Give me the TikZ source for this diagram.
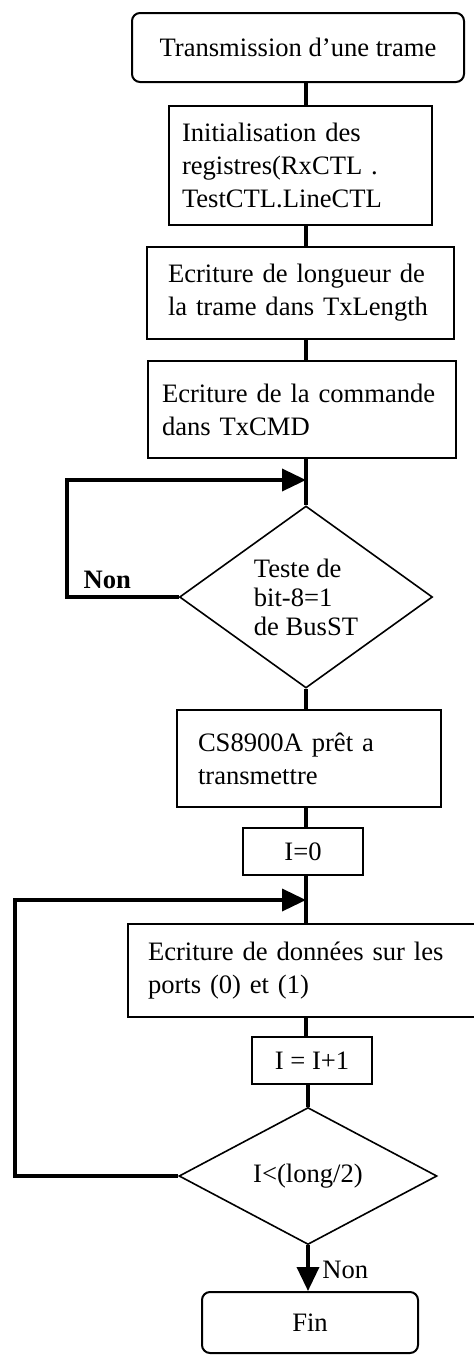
\documentclass[tikz,border=0pt]{standalone}
\usepackage{fontspec}
\setmainfont{Liberation Serif}
\usetikzlibrary{arrows.meta,shapes.geometric}

\begin{document}
\begin{tikzpicture}[
  x=0.5pt,y=-0.5pt,
  txt/.style={font=\fontsize{13.3}{16.5}\selectfont},
  stepbox/.style={draw,line width=1pt,align=left,inner xsep=10.5pt,inner ysep=0pt,txt},
  smallbox/.style={draw,line width=1pt,minimum width=60pt,minimum height=23.5pt,inner sep=0pt,txt},
  endbox/.style={draw,line width=1pt,rounded corners=4pt,inner sep=0pt,txt},
  testbox/.style={draw,diamond,line width=0.8pt,align=left,inner sep=0pt,font=\fontsize{13.3}{14.5}\selectfont},
  flow/.style={line width=1.8pt},
  backflow/.style={flow,-{Triangle[length=12pt,width=11pt]}}
]
\useasboundingbox (0,0) rectangle (474,1355);
\coordinate (ax) at (306,0);
% main column
\node[endbox,minimum width=166pt,minimum height=34.5pt] (n0) at (298,47.5) {Transmission d’une trame};
\node[stepbox,inner xsep=6.5pt,text width=118.5pt,minimum height=59.5pt] (n1) at (300.5,165.5) {Initialisation des\\registres(RxCTL .\\TestCTL.LineCTL};
\node[stepbox,text width=132.5pt,minimum height=46pt] (n2) at (300.5,293) {Ecriture de longueur de\\la trame dans TxLength};
\node[stepbox,inner xsep=7pt,text width=140pt,minimum height=48.5pt] (n3) at (302,409.5) {Ecriture de la commande\\dans TxCMD};
\node[testbox,minimum width=126.5pt,minimum height=91pt] (d1) at (306,597) {Teste de\\bit-8=1\\de BusST};
\node[stepbox,text width=111pt,minimum height=48.5pt] (n4) at (309,758.5) {CS8900A prêt a\\transmettre};
\node[smallbox] (n5) at (303,851.5) {I=0};
\node[stepbox,inner xsep=10pt,text width=156pt,minimum height=46.5pt] (n6) at (304,970.5) {Ecriture de données sur les\\ports (0) et (1)};
\node[smallbox] (n7) at (312,1060.5) {I = I+1};
\node[testbox,minimum width=129pt,minimum height=68.5pt] (d2) at (308,1176) {I<(long/2)};
\node[endbox,minimum width=108pt,minimum height=30.5pt] (fin) at (310,1322.5) {Fin};
% connectors
\foreach \a/\b in {n0/n1,n1/n2,n2/n3,n4/n5,n5/n6,n6/n7}
  \draw[flow] (\a.south -| ax) -- (\b.north -| ax);
\draw[flow] (n3.south -| ax) -- (d1.north);
\draw[flow] (d1.south) -- (n4.north -| ax);
\draw[flow] (n7.south -| d2.north) -- (d2.north);
\draw[backflow] (d2.south) -- node[right=3pt,pos=0.53,txt] (non2) {Non} (fin.north -| d2.south);
% loops
\coordinate (l1) at (67,480);
\coordinate (l2) at (15,900);
\draw[backflow] (d1.west) -- node[above,pos=0.64,font=\fontsize{13.3}{16}\selectfont\bfseries] (non1) {Non} (d1.west -| l1) -- (l1) -- (l1 -| ax);
\draw[backflow] (d2.west) -- (d2.west -| l2) -- (l2) -- (l2 -| ax);
\end{tikzpicture}
\end{document}
